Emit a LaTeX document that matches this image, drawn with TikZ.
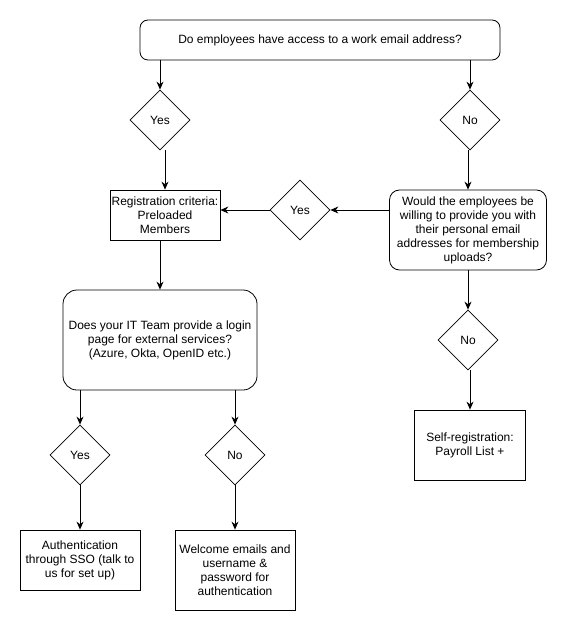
\documentclass[tikz,border=0pt]{standalone}
\usepackage{fontspec}
\setmainfont{Liberation Sans}
\usetikzlibrary{shapes.geometric,arrows.meta}

\begin{document}
\begin{tikzpicture}[x=1pt, y=-1pt,
every node/.style={%
    font=\fontsize{12pt}{14pt}\selectfont, align=center, inner sep=1pt, line width=0.8pt
    },
question/.style={draw, rounded corners=8pt},
process/.style={draw},
decision/.style={draw, diamond, minimum width=60pt, minimum height=60pt, inner sep=0pt},
arr/.style={-{Stealth[length=8pt,width=7pt]}, line width=0.8pt}
]
\useasboundingbox (0,0) rectangle (569,631);

\node[question, minimum width=360pt, minimum height=40pt] (q1) at (320,40) {Do employees have access to a work email address?};
\node[decision] (y1) at (160,120) {Yes};
\node[decision] (n1) at (470,120) {No};

\node[process, minimum width=110pt, minimum height=50pt] (reg) at (165,215) {Registration criteria:\\Preloaded\\Members};
\node[decision] (y3) at (300,210) {Yes};
\node[question, rounded corners=10pt, minimum width=157pt, minimum height=80pt] (q2) at (468,230) {Would the employees be\\willing to provide you with\\their personal email\\addresses for membership\\uploads?};

\node[question, rounded corners=14pt, minimum width=194pt, minimum height=100pt] (q3) at (160,340) {Does your IT Team provide a login\\page for external services?\\(Azure, Okta, OpenID etc.)};
\node[decision] (n3) at (468,340) {No};
\node[process, minimum width=111pt, minimum height=70pt] (self) at (470,445) {Self-registration:\\Payroll List +};

\node[decision] (y2) at (80,455) {Yes};
\node[decision] (n2) at (235,455) {No};
\node[process, minimum width=120pt, minimum height=60pt] (auth) at (80,560) {Authentication\\through SSO (talk to\\us for set up)};
\node[process, minimum width=120pt, minimum height=80pt] (wel) at (235,570) {Welcome emails and\\username \&\\password for\\authentication};

% vertical connectors
\foreach \i/\j in {
                    q1/y1, q1/n1,
                    y1/reg, n1/q2,
                    reg/q3, q2/n3,
                    n3/self,
                    q3/y2, q3/n2,
                    y2/auth, n2/wel%
            }
    \draw [arr] (\j |- \i.south) -- (\j.north);

% horizontal connectors, at the height of the middle Yes
\foreach \i/\j in {q2/y3, y3/reg}
    \draw [arr] (\i.west |- y3) -- (\j.east |- y3);

\end{tikzpicture}
\end{document}
